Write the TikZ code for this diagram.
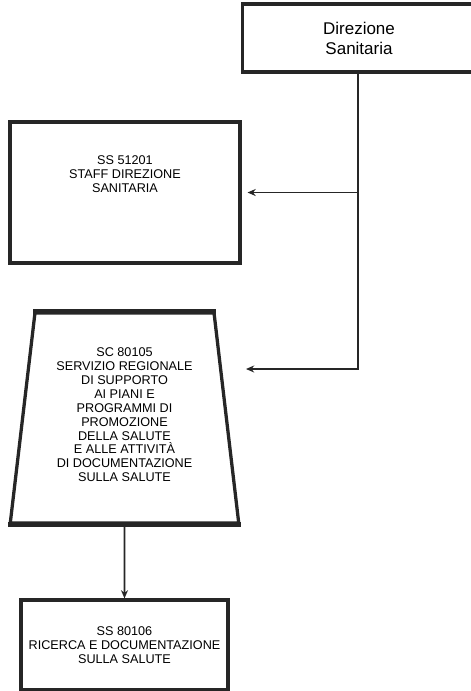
\documentclass[tikz,border=0pt]{standalone}
\usepackage{fontspec}
\setmainfont{Liberation Sans}
\usepackage{tikz}
\usetikzlibrary{shapes.geometric, arrows.meta}
\definecolor{BoxGray}{RGB}{38, 38, 38}

\begin{document}
\begin{tikzpicture}[
    x=0.03cm, y=-0.03cm,
    ubox/.style={draw=BoxGray, rectangle, line width=2.8pt, align=center, text=black, font=\fontsize{10.8}{11.9}\selectfont},
    tbox/.style={ubox, shape=trapezium, trapezium left angle=82.4, trapezium right angle=82.4, trapezium stretches=true},
    arrow/.style={-{Stealth[length=7pt, width=6pt]}, line width=1.6pt, color=BoxGray}
]
\useasboundingbox (0,0) rectangle (471,691);
\node[ubox, minimum width=7cm, minimum height=2.04cm, font=\fontsize{14.5}{17}\selectfont] (dir) at (359,38) {Direzione\\Sanitaria};
\node[ubox, minimum width=6.9cm, minimum height=4.23cm, text depth=1.1cm] (staff) at (125,192.5) {SS 51201\\STAFF DIREZIONE\\SANITARIA};
\node[tbox, minimum width=6.87cm, minimum height=6.3cm, text depth=0.2cm] (serv) at (124.5,418) {SC 80105\\SERVIZIO REGIONALE\\DI SUPPORTO\\AI PIANI E\\PROGRAMMI DI\\PROMOZIONE\\DELLA SALUTE\\E ALLE ATTIVITÀ\\DI DOCUMENTAZIONE\\SULLA SALUTE};
\draw[BoxGray, line width=4pt] (serv.top left corner) -- (serv.top right corner);
\draw[BoxGray, line width=4pt] (serv.bottom left corner) -- (serv.bottom right corner);
\node[ubox, minimum width=6.21cm, minimum height=2.7cm] (ric) at (124.5,645) {SS 80106\\RICERCA E DOCUMENTAZIONE\\SULLA SALUTE};
\coordinate (servin) at (246,369);
% connectors
\draw[arrow] ([xshift=-0.03cm]dir.south) |- (servin);
\draw[arrow] ([xshift=-0.03cm]dir.south |- staff.east) -- ([xshift=5pt]staff.east);
\draw[arrow] (serv.south) -- (ric.north);
\end{tikzpicture}
\end{document}
